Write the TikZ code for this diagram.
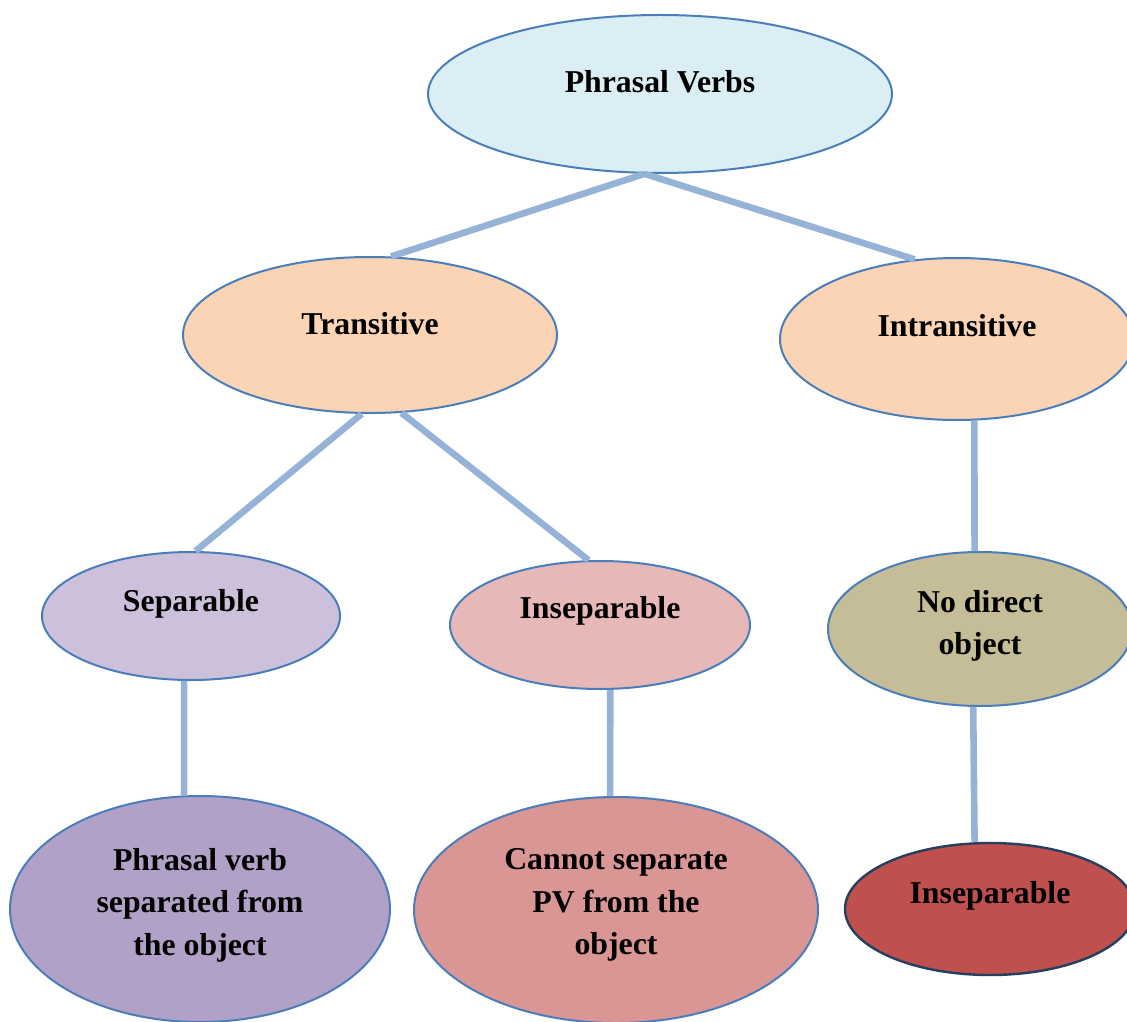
\documentclass[tikz,border=0pt]{standalone}
\usepackage{fontspec}
\setmainfont{Liberation Serif}
\usetikzlibrary{shapes.geometric}
\definecolor{edgeblue}{HTML}{4A7EBB}
\definecolor{linkblue}{HTML}{95B3D7}
\definecolor{darkrim}{HTML}{243F60}
\definecolor{fPV}{HTML}{DAEEF3}
\definecolor{fTR}{HTML}{FAD4B4}
\definecolor{fSEP}{HTML}{CCC0DA}
\definecolor{fINS}{HTML}{E6B9B8}
\definecolor{fNDO}{HTML}{C4BD97}
\definecolor{fPVS}{HTML}{B2A1C7}
\definecolor{fCAN}{HTML}{D99694}
\definecolor{fINB}{HTML}{C0504D}
\tikzset{
  oval/.style={ellipse, draw=edgeblue, line width=1pt, inner sep=0pt},
  link/.style={draw=linkblue, line width=3.3pt},
  txt/.style={font=\fontsize{15.9}{21.3}\selectfont\bfseries, align=center, text=black}
}
\begin{document}
\begin{tikzpicture}[x=0.5pt,y=-0.5pt]
\useasboundingbox (0,0) rectangle (1127,1021);
\clip (0,0) rectangle (1127,1021);
% ellipses (sizes in pt = pixels/2)
\node[oval, fill=fPV, minimum width=232pt, minimum height=79pt] (pv) at (660,94) {};
\node[oval, fill=fTR, minimum width=187pt, minimum height=78pt] (tr) at (370,335) {};
\node[oval, fill=fTR, minimum width=177pt, minimum height=81pt] (in) at (957,339) {};
\node[oval, fill=fSEP, minimum width=149pt, minimum height=64pt] (sep) at (191,616) {};
\node[oval, fill=fINS, minimum width=150pt, minimum height=64pt] (ins) at (600,625) {};
\node[oval, fill=fNDO, minimum width=152pt, minimum height=77pt] (ndo) at (980,629) {};
\node[oval, fill=fPVS, minimum width=190pt, minimum height=113pt] (pvs) at (200,909) {};
\node[oval, fill=fCAN, minimum width=202pt, minimum height=113pt] (can) at (616,910) {};
\node[oval, fill=fINB, draw=darkrim, line width=1.2pt, minimum width=145pt, minimum height=66pt] (inb) at (990,909) {};
% texts
\node[txt] (tpv) at ([yshift=6pt]pv.center) {Phrasal Verbs};
\node[txt] (ttr) at ([yshift=5.5pt]tr.center) {Transitive};
\node[txt] (tin) at ([yshift=6.5pt]in.center) {Intransitive};
\node[txt] (tsep) at ([yshift=6pt]sep.center) {Separable};
\node[txt] (tins) at ([yshift=7pt]ins.center) {Inseparable};
\node[txt] (tndo) at ([yshift=1.5pt]ndo.center) {No direct\\object};
\node[txt] (tpvs) at ([yshift=2pt]pvs.center) {Phrasal verb\\separated from\\the object};
\node[txt] (tcan) at ([yshift=2.5pt]can.center) {Cannot separate\\PV from the\\object};
\node[txt] (tinb) at ([yshift=6.5pt]inb.center) {Inseparable};
% connectors
\draw[link] (pv.259) -- (tr.75);
\draw[link] (pv.259) -- (in.118);
\draw[link] (tr.264) -- (sep.86);
\draw[link] (tr.292) -- (ins.100);
\draw[link] (in.282) -- (ndo.94.5);
\draw[link] (sep.264) -- (pvs.98);
\draw[link] (ins.279) -- (can.93);
\draw[link] (ndo.265.5) -- (inb.103.5);
\end{tikzpicture}
\end{document}
